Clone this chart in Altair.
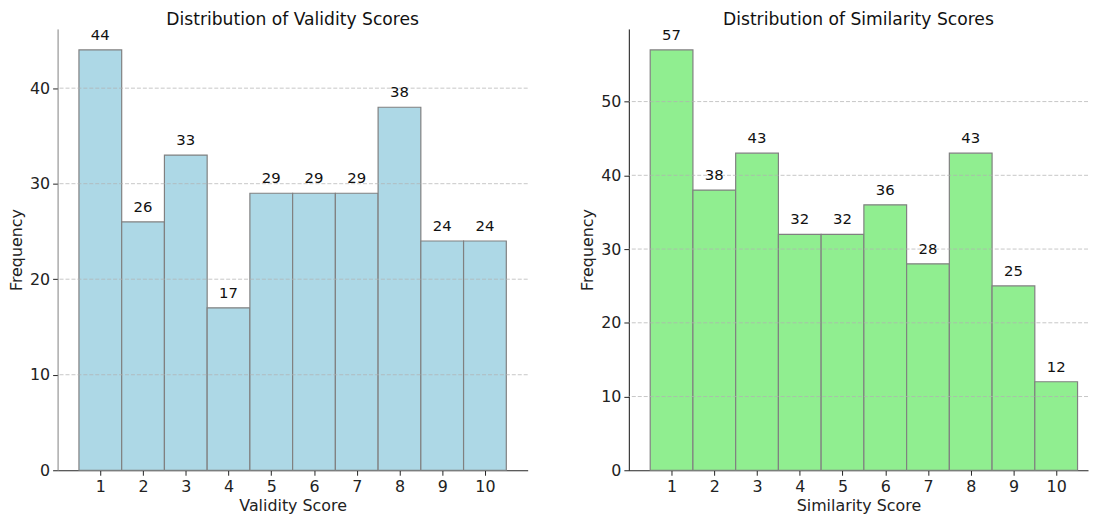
import altair as alt
import pandas as pd

scores = [1, 2, 3, 4, 5, 6, 7, 8, 9, 10]
validity_counts = [44, 26, 33, 17, 29, 29, 29, 38, 24, 24]
similarity_counts = [57, 38, 43, 32, 32, 36, 28, 43, 25, 12]

FONT = "DejaVu Sans"


def panel(counts, title, xtitle, color, ymax, yticks, domain_color, width, xmax):
    df = pd.DataFrame({
        "score": scores,
        "lo": [s - 0.5 for s in scores],
        "hi": [s + 0.5 for s in scores],
        "count": counts,
    })
    grid_df = pd.DataFrame({"g": yticks[1:]})
    xs = alt.Scale(domain=[0, xmax], nice=False, zero=False)
    ys = alt.Scale(domain=[0, ymax], nice=False)
    xaxis = alt.Axis(values=scores, title=xtitle, domainColor="#222", labelFlush=False,
                     titlePadding=4)
    yaxis = alt.Axis(values=yticks, title="Frequency", domainColor=domain_color, titlePadding=5)
    bars = alt.Chart(df).mark_rect(color=color, stroke="#808080", strokeWidth=1.2).encode(
        x=alt.X("lo:Q", scale=xs, axis=xaxis),
        x2="hi:Q",
        y=alt.Y("count:Q", scale=ys, axis=yaxis),
        y2=alt.datum(0),
    )
    grid = alt.Chart(grid_df).mark_rule(color="#b0b0b0", strokeDash=[4, 2], strokeWidth=0.8, opacity=0.9).encode(
        y=alt.Y("g:Q", scale=ys, title="Frequency"),
    )
    labels = alt.Chart(df).mark_text(baseline="bottom", dy=-7, fontSize=15, font=FONT, color="#111").encode(
        x=alt.X("score:Q", scale=xs, title=xtitle),
        y=alt.Y("count:Q", scale=ys, title="Frequency"),
        text="count:Q",
    )
    return alt.layer(bars, grid, labels).properties(
        width=width, height=445,
        title=alt.TitleParams(title, fontSize=17.3, font=FONT, fontWeight="normal", color="#111",
                              offset=0),
    )


left = panel(validity_counts, "Distribution of Validity Scores", "Validity Score", "#ADD8E6",
             46.2, [0, 10, 20, 30, 40], "#808080", 474, 11)
right = panel(similarity_counts, "Distribution of Similarity Scores", "Similarity Score", "#90EE90",
              59.85, [0, 10, 20, 30, 40, 50], "#111", 463, 11 * 463 / 474)

chart = alt.hconcat(left, right, spacing=51).properties(
    padding={"left": 0, "top": 0, "right": 0, "bottom": 0}
).configure_view(stroke=None).configure_axis(
    grid=False, tickSize=5, labelFontSize=16, titleFontSize=16, labelFont=FONT, titleFont=FONT,
    titleFontWeight="normal", labelColor="#222", titleColor="#222", tickColor="#222",
    labelPadding=3,
)

chart.save("out.html", embed_options={"renderer": "svg", "actions": False})
